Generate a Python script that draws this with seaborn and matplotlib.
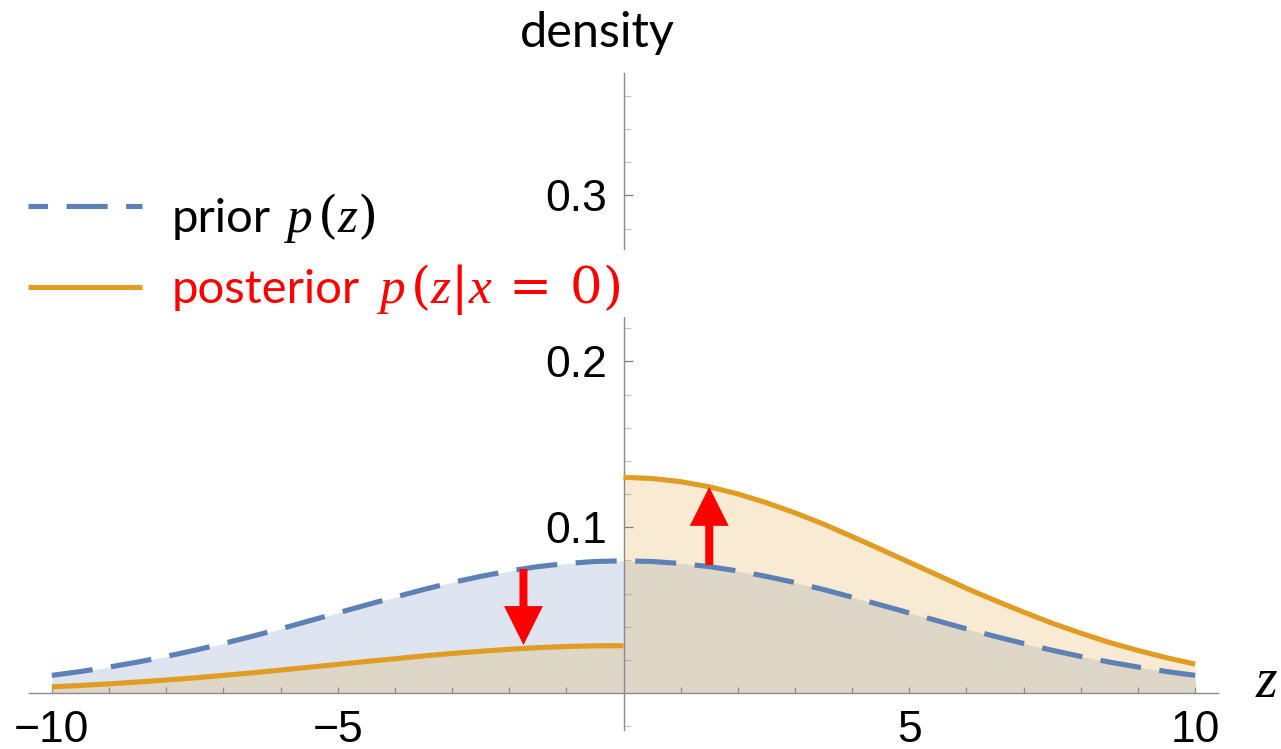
import matplotlib
matplotlib.use("Agg")
import matplotlib.pyplot as plt
from matplotlib.lines import Line2D
from matplotlib.patches import Rectangle
from matplotlib.ticker import FixedLocator, NullFormatter
import seaborn as sns
import pandas as pd

# ---------------- data ----------------
z_all = [-10.0, -9.5, -9.0, -8.5, -8.0, -7.5, -7.0, -6.5, -6.0, -5.5, -5.0,
         -4.5, -4.0, -3.5, -3.0, -2.5, -2.0, -1.5, -1.0, -0.5, 0.0,
         0.5, 1.0, 1.5, 2.0, 2.5, 3.0, 3.5, 4.0, 4.5, 5.0,
         5.5, 6.0, 6.5, 7.0, 7.5, 8.0, 8.5, 9.0, 9.5, 10.0]
prior = [0.0108, 0.0131, 0.0158, 0.0188, 0.0222, 0.0259, 0.0300, 0.0343, 0.0388, 0.0436, 0.0484,
         0.0532, 0.0579, 0.0625, 0.0667, 0.0704, 0.0737, 0.0763, 0.0782, 0.0794, 0.0798,
         0.0794, 0.0782, 0.0763, 0.0737, 0.0704, 0.0667, 0.0625, 0.0579, 0.0532, 0.0484,
         0.0436, 0.0388, 0.0343, 0.0300, 0.0259, 0.0222, 0.0188, 0.0158, 0.0131, 0.0108]

z_left = [-10.0, -9.5, -9.0, -8.5, -8.0, -7.5, -7.0, -6.5, -6.0, -5.5, -5.0,
          -4.5, -4.0, -3.5, -3.0, -2.5, -2.0, -1.5, -1.0, -0.5, 0.0]
posterior_left = [0.0039, 0.0047, 0.0057, 0.0068, 0.0080, 0.0093, 0.0108, 0.0123, 0.0140, 0.0157, 0.0174,
                  0.0192, 0.0208, 0.0225, 0.0240, 0.0253, 0.0265, 0.0275, 0.0282, 0.0286, 0.0287]
z_right = [0.0, 0.5, 1.0, 1.5, 2.0, 2.5, 3.0, 3.5, 4.0, 4.5, 5.0,
           5.5, 6.0, 6.5, 7.0, 7.5, 8.0, 8.5, 9.0, 9.5, 10.0]
posterior_right = [0.1301, 0.1294, 0.1275, 0.1244, 0.1201, 0.1148, 0.1087, 0.1019, 0.0944, 0.0867, 0.0789,
                   0.0711, 0.0632, 0.0559, 0.0489, 0.0422, 0.0362, 0.0306, 0.0258, 0.0214, 0.0176]

arrow_z = [-1.75, 1.5]
arrow_start = [0.0749, 0.0773]
arrow_end = [0.0291, 0.1243]

x_major = [-10, -5, 5, 10]
x_major_labels = ["\u221210", "\u22125", "5", "10"]
x_minor = [-9, -8, -7, -6, -4, -3, -2, -1, 1, 2, 3, 4, 6, 7, 8, 9]
y_major = [0.1, 0.2, 0.3]
y_major_labels = ["0.1", "0.2", "0.3"]
y_minor = [-0.02, 0.02, 0.04, 0.06, 0.08, 0.12, 0.14, 0.16, 0.18,
           0.22, 0.24, 0.26, 0.28, 0.32, 0.34, 0.36]

legend_words = ["prior", "posterior"]
legend_math = ["$p\\,(z)$", "$p\\,(z|x\\;=\\;0)$"]

# ---------------- style ----------------
BLUE = "#5E81B5"
ORANGE = "#E19C24"
sns.set_style("white")
plt.rcParams["font.family"] = ["Lato", "DejaVu Sans"]
plt.rcParams["mathtext.fontset"] = "custom"
plt.rcParams["mathtext.rm"] = "DejaVu Serif"
plt.rcParams["mathtext.it"] = "Liberation Serif:italic"
plt.rcParams["text.color"] = "black"

W, H = 1281, 749
fig = plt.figure(figsize=(W / 100, H / 100), dpi=100)
ax = fig.add_axes([29 / W, 1 - 729.8 / H, (1218 - 29) / W, (729.8 - 72.5) / H])
ax.set_xlim(-10.4, 10.4)
ax.set_ylim(-0.022, 0.374)

df_prior = pd.DataFrame({"z": z_all, "density": prior})
df_pl = pd.DataFrame({"z": z_left, "density": posterior_left})
df_pr = pd.DataFrame({"z": z_right, "density": posterior_right})

# fills
ax.fill_between(df_prior["z"], df_prior["density"], color=BLUE, alpha=0.2, lw=0, zorder=1)
ax.fill_between(df_pl["z"], df_pl["density"], color=ORANGE, alpha=0.2, lw=0, zorder=1)
ax.fill_between(df_pr["z"], df_pr["density"], color=ORANGE, alpha=0.2, lw=0, zorder=1)

LW = 3.7
dash = (0, (8.0, 3.6))
sns.lineplot(data=df_prior, x="z", y="density", ax=ax, color=BLUE, lw=LW,
             linestyle=dash, dash_capstyle="butt", legend=False, zorder=3)
sns.lineplot(data=df_pl, x="z", y="density", ax=ax, color=ORANGE, lw=LW,
             solid_capstyle="butt", legend=False, zorder=3)
sns.lineplot(data=df_pr, x="z", y="density", ax=ax, color=ORANGE, lw=LW,
             solid_capstyle="butt", legend=False, zorder=3)

# arrows
for xz, y0, y1 in zip(arrow_z, arrow_start, arrow_end):
    ax.annotate("", xy=(xz, y1), xytext=(xz, y0),
                arrowprops=dict(arrowstyle="simple,head_length=0.56,head_width=0.56,tail_width=0.115",
                                mutation_scale=50, color="red", lw=0,
                                shrinkA=0, shrinkB=0),
                zorder=5)

# axes styling (Mathematica-like, axes through origin)
for s in ["top", "right"]:
    ax.spines[s].set_visible(False)
ax.spines["left"].set_position(("data", 0))
ax.spines["bottom"].set_position(("data", 0))
for s in ["left", "bottom"]:
    ax.spines[s].set_color("#8a8a8a")
    ax.spines[s].set_linewidth(1.0)
    ax.spines[s].set_zorder(2.5)

ax.set_xlabel("")
ax.set_ylabel("")
ax.set_xticks(x_major)
ax.set_xticklabels(x_major_labels, family=["Liberation Sans", "DejaVu Sans"], fontsize=32)
ax.xaxis.set_minor_locator(FixedLocator(x_minor))
ax.set_yticks(y_major)
ax.set_yticklabels(y_major_labels, family=["Liberation Sans", "DejaVu Sans"], fontsize=32)
ax.yaxis.set_minor_locator(FixedLocator(y_minor))
ax.yaxis.set_minor_formatter(NullFormatter())
ax.xaxis.set_minor_formatter(NullFormatter())
ax.tick_params(axis="x", which="both", bottom=True, direction="in", length=4.5, width=0.9,
               color="#8a8a8a", labelcolor="black", pad=12)
ax.tick_params(axis="y", which="major", left=True, direction="in", length=6.5, width=0.9,
               color="#7a7a7a", labelcolor="black", pad=12)
ax.tick_params(axis="y", which="minor", left=True, direction="in", length=5, width=0.9,
               color="#c4c4c4")
ax.grid(False)

# axis labels
fig.text(597 / W, 1 - 47 / H, "density", ha="center", va="baseline", fontsize=35, color="black")
fig.text(1267 / W, 1 - 697 / H, "$z$", ha="center", va="baseline", fontsize=40, color="black")

# manual legend
h1 = Line2D([28 / W, 142 / W], [1 - 206 / H, 1 - 206 / H], transform=fig.transFigure,
            color=BLUE, lw=LW, linestyle=(4.2, (8.0, 3.6)), dash_capstyle="butt")
h2 = Line2D([28 / W, 142 / W], [1 - 287 / H, 1 - 287 / H], transform=fig.transFigure,
            color=ORANGE, lw=LW, solid_capstyle="butt")
fig.add_artist(h1)
fig.add_artist(h2)
# white patch behind the posterior row (interrupts the y axis like the reference)
fig.add_artist(Rectangle((560 / W, 1 - 317 / H), 80 / W, 67 / H, transform=fig.transFigure,
                         facecolor="white", edgecolor="none", zorder=3.5))
fig.text(172 / W, 1 - 232 / H, legend_words[0], ha="left", va="baseline",
         fontsize=34, color="black", zorder=4)
fig.text(283 / W, 1 - 232 / H, legend_math[0], ha="left", va="baseline",
         fontsize=37, color="black", zorder=4)
fig.text(172 / W, 1 - 303 / H, legend_words[1], ha="left", va="baseline",
         fontsize=34, color="red", zorder=4)
fig.text(376 / W, 1 - 303 / H, legend_math[1], ha="left", va="baseline",
         fontsize=37, color="red", zorder=4)

fig.savefig("out.png", dpi=100)
